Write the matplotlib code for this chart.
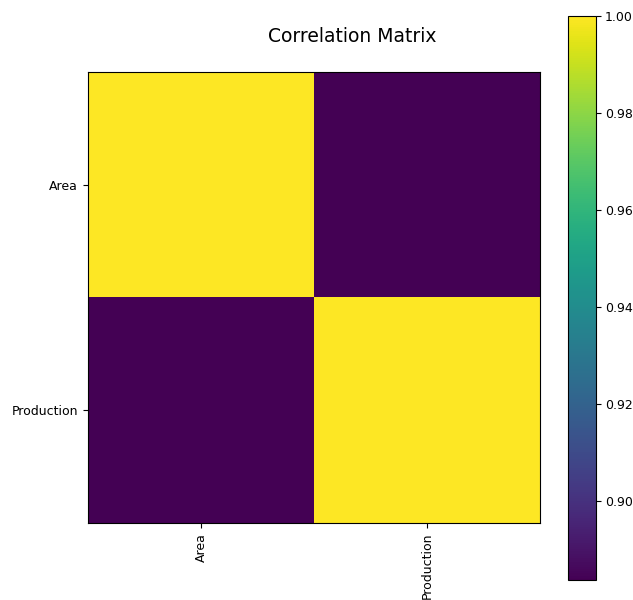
import numpy as np
import matplotlib
matplotlib.use("Agg")
import matplotlib.pyplot as plt

labels = ["Area", "Production"]
corr_ap = 0.8837
corr = np.array([[1.0, corr_ap],
                 [corr_ap, 1.0]])

fig = plt.figure(figsize=(6.33, 6.0), dpi=100)
ax = fig.add_axes([88/633, 1 - 523/600, 452/633, 451/600])
cax = fig.add_axes([568/633, 1 - 580/600, 28/633, 564/600])

im = ax.imshow(corr, cmap="viridis", aspect="auto")
ax.set_xticks(range(len(labels)))
ax.set_xticklabels(labels, rotation=90, fontsize=9)
ax.set_yticks(range(len(labels)))
ax.set_yticklabels(labels, fontsize=9)
fig.text(352/633, 1 - 36/600, "Correlation Matrix", ha="center", va="center", fontsize=13.5)

cb = fig.colorbar(im, cax=cax)
cb.set_ticks([0.90, 0.92, 0.94, 0.96, 0.98, 1.00])
cb.ax.tick_params(labelsize=9, pad=3)

fig.savefig("out.png", dpi=100)
